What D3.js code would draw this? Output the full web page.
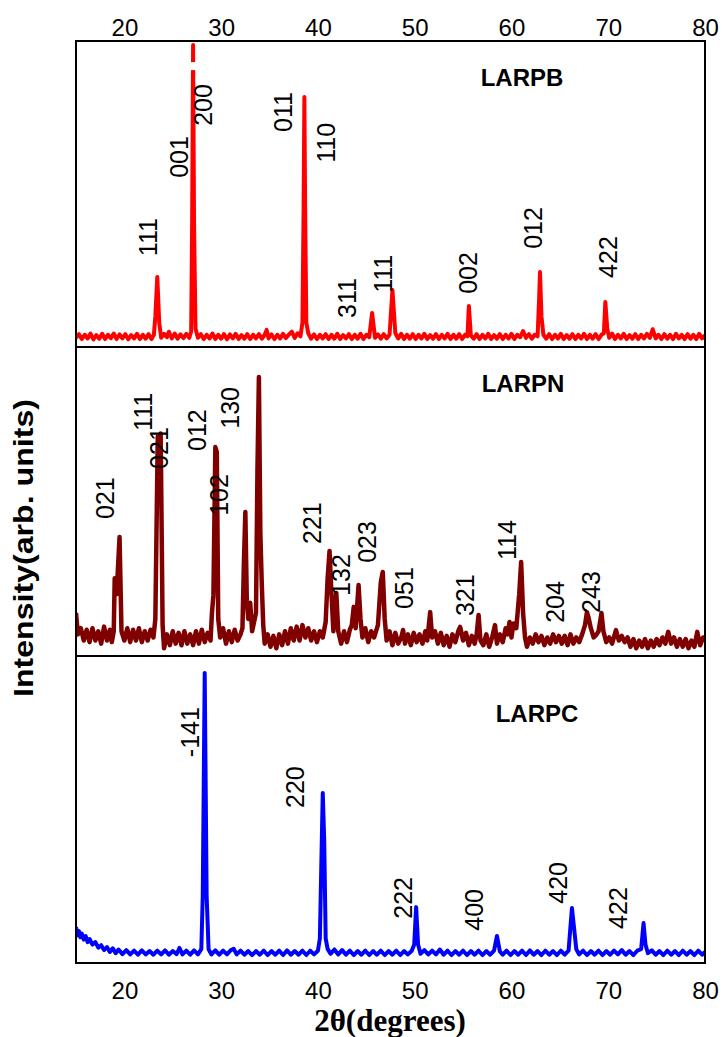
<!DOCTYPE html>
<html>
<head>
<meta charset="utf-8">
<script src="https://cdn.jsdelivr.net/npm/d3@7"></script>
<style>
  body { margin: 0; background: #fff; }
  text { font-family: "Liberation Sans", Arial, sans-serif; }
</style>
</head>
<body>
<svg id="chart" width="722" height="1037"></svg>
<script>
// x axis
const xDomain = [15, 80]
const xTicks = [20, 30, 40, 50, 60, 70, 80]

// LARPB pattern: [2theta, intensity (0-100)]
const larpb = [
  [15.0, 3.0], [15.3, 4.2], [15.6, 2.6], [15.9, 4.0], [16.2, 2.8], [16.5, 4.4], [16.8, 2.5], [17.1, 3.9],
  [17.4, 2.7], [17.7, 4.3], [18.0, 2.6], [18.3, 4.0], [18.6, 2.9], [18.9, 4.4], [19.2, 2.6], [19.5, 4.1],
  [19.8, 2.8], [20.1, 4.2], [20.4, 2.5], [20.7, 3.9], [21.0, 2.8], [21.3, 4.3], [21.6, 2.6], [21.9, 4.0],
  [22.2, 2.7], [22.5, 4.2], [22.8, 2.6], [23.05, 4.0], [23.2, 10], [23.4, 22.9], [23.6, 8], [23.8, 3.0],
  [24.1, 4.3], [24.4, 3.2], [24.6, 5.0], [24.9, 2.8], [25.2, 4.4], [25.5, 2.7], [25.8, 4.1], [26.1, 2.9],
  [26.4, 4.3], [26.7, 3.0], [26.9, 5], [27.0, 40], [27.1, 98.7], [27.2, 40], [27.35, 6], [27.6, 3.0],
  [27.9, 4.2], [28.2, 2.6], [28.5, 4.0], [28.8, 2.8], [29.1, 4.4], [29.4, 2.6], [29.7, 4.0], [30.0, 2.7],
  [30.3, 4.2], [30.6, 2.5], [30.9, 4.1], [31.2, 2.8], [31.5, 4.3], [31.8, 2.6], [32.1, 3.9], [32.4, 2.7],
  [32.7, 4.2], [33.0, 2.6], [33.3, 4.0], [33.6, 2.8], [33.9, 4.2], [34.2, 2.7], [34.5, 4.0], [34.7, 5.6],
  [34.9, 2.8], [35.2, 4.1], [35.5, 2.6], [35.8, 4.0], [36.1, 2.8], [36.4, 4.3], [36.7, 2.9], [37.0, 4.1],
  [37.3, 5.0], [37.6, 3.0], [37.9, 4.5], [38.2, 3.5], [38.4, 8], [38.52, 45], [38.6, 81.7], [38.68, 45],
  [38.8, 8], [39.0, 4.5], [39.3, 2.7], [39.6, 4.1], [39.9, 2.6], [40.2, 4.0], [40.5, 2.8], [40.8, 4.2],
  [41.1, 2.6], [41.4, 4.0], [41.7, 2.7], [42.0, 4.3], [42.3, 2.6], [42.6, 3.9], [42.9, 2.8], [43.2, 4.2],
  [43.5, 2.6], [43.8, 4.0], [44.1, 2.7], [44.4, 4.3], [44.7, 2.6], [45.0, 4.0], [45.3, 3.2], [45.6, 11.1],
  [45.9, 3.0], [46.2, 4.1], [46.5, 2.7], [46.8, 4.2], [47.1, 2.8], [47.4, 4.0], [47.7, 18.6], [48.0, 4.5],
  [48.3, 2.8], [48.6, 4.3], [48.9, 2.6], [49.2, 4.0], [49.5, 2.7], [49.8, 4.2], [50.1, 2.6], [50.4, 4.0],
  [50.7, 2.8], [51.0, 4.3], [51.3, 2.6], [51.6, 3.9], [51.9, 2.7], [52.2, 4.2], [52.5, 2.6], [52.8, 4.0],
  [53.1, 2.8], [53.4, 4.3], [53.7, 2.6], [54.0, 4.0], [54.3, 2.7], [54.6, 4.2], [54.9, 2.6], [55.2, 4.0],
  [55.45, 3.5], [55.6, 13.4], [55.8, 3.8], [56.1, 2.7], [56.4, 4.2], [56.7, 2.6], [57.0, 4.0], [57.3, 2.8],
  [57.6, 4.3], [57.9, 2.6], [58.2, 3.9], [58.5, 2.7], [58.8, 4.2], [59.1, 2.6], [59.4, 4.0], [59.7, 2.8],
  [60.0, 4.3], [60.3, 2.6], [60.6, 4.0], [60.9, 3.2], [61.2, 5.2], [61.5, 3.0], [61.8, 4.2], [62.1, 2.7],
  [62.4, 4.0], [62.7, 3.5], [62.85, 15], [62.95, 24.5], [63.1, 10], [63.3, 4.0], [63.6, 2.7], [63.9, 4.2],
  [64.2, 2.6], [64.5, 4.0], [64.8, 2.8], [65.1, 4.3], [65.4, 2.6], [65.7, 3.9], [66.0, 2.7], [66.3, 4.2],
  [66.6, 2.6], [66.9, 4.0], [67.2, 2.8], [67.5, 4.3], [67.8, 2.6], [68.1, 4.0], [68.4, 2.7], [68.7, 4.2],
  [69.0, 2.6], [69.3, 4.0], [69.55, 4.5], [69.7, 14.7], [69.9, 6], [70.1, 3.0], [70.4, 4.4], [70.7, 2.6],
  [71.0, 4.0], [71.3, 2.8], [71.6, 4.3], [71.9, 2.6], [72.2, 3.9], [72.5, 2.7], [72.8, 4.2], [73.1, 2.6],
  [73.4, 4.0], [73.7, 2.8], [74.0, 4.3], [74.3, 3.0], [74.6, 5.8], [74.9, 2.8], [75.2, 4.0], [75.5, 2.6],
  [75.8, 4.2], [76.1, 2.7], [76.4, 4.0], [76.7, 2.6], [77.0, 4.3], [77.3, 2.8], [77.6, 4.0], [77.9, 2.6],
  [78.2, 4.2], [78.5, 2.7], [78.8, 4.0], [79.1, 2.6], [79.4, 4.3], [79.7, 2.8], [80.0, 3.8]
]
// break drawn across the clipped 001/200 peak
const larpbBreak = [27.1, 91.8]

const larpn = [
  [15.0, 13.9], [15.2, 7], [15.5, 9], [15.8, 5], [16.1, 8.5], [16.4, 4.5], [16.7, 9], [17.0, 5],
  [17.3, 8], [17.6, 4], [17.9, 9.5], [18.2, 5], [18.5, 8.5], [18.7, 4.5], [18.9, 8], [19.0, 25.2],
  [19.2, 20], [19.5, 38.5], [19.7, 8], [20.0, 5], [20.3, 9], [20.6, 4.5], [20.9, 8.5], [21.2, 5],
  [21.5, 9], [21.8, 4.5], [22.1, 8], [22.4, 5], [22.7, 8.5], [23.0, 6], [23.2, 12], [23.45, 71],
  [23.6, 66], [23.75, 72], [23.95, 10], [24.1, 2.5], [24.4, 7], [24.7, 3.5], [25.0, 8], [25.3, 4],
  [25.6, 7.5], [25.9, 3.5], [26.2, 8], [26.5, 4], [26.8, 7], [27.1, 3.5], [27.4, 8], [27.7, 4],
  [28.0, 8.5], [28.3, 4.5], [28.6, 7.5], [28.9, 5], [29.05, 14], [29.2, 19.7], [29.4, 67.6],
  [29.55, 66], [29.7, 12], [29.9, 6], [30.2, 9], [30.5, 4], [30.8, 8], [31.1, 4.5], [31.4, 8.5],
  [31.7, 5], [32.0, 7], [32.2, 9], [32.35, 30], [32.5, 46.6], [32.65, 18], [32.8, 12], [33.0, 17.2],
  [33.2, 8], [33.4, 11], [33.6, 14], [33.75, 60], [33.9, 90.3], [34.05, 40], [34.2, 23], [34.35, 10],
  [34.5, 4], [34.8, 7], [35.1, 3], [35.4, 6.5], [35.7, 2.5], [36.0, 7], [36.3, 3.5], [36.6, 8],
  [36.9, 4], [37.2, 9], [37.5, 5], [37.8, 9.5], [38.1, 5], [38.4, 10], [38.7, 6], [39.0, 9],
  [39.3, 5], [39.6, 8], [39.9, 4.5], [40.2, 8], [40.5, 6], [40.8, 11], [41.0, 25], [41.2, 34],
  [41.4, 20], [41.6, 8], [41.9, 20.4], [42.1, 8], [42.4, 4], [42.7, 8], [43.0, 4.5], [43.3, 8.5],
  [43.5, 10], [43.7, 15.9], [43.9, 9], [44.2, 23], [44.4, 12], [44.6, 6], [44.9, 9], [45.2, 4.5],
  [45.5, 8], [45.8, 6], [46.2, 10], [46.5, 24], [46.7, 27.2], [46.9, 12], [47.1, 5], [47.4, 8],
  [47.7, 3.5], [48.0, 7.5], [48.3, 4], [48.6, 6], [48.8, 8.4], [49.0, 4], [49.3, 7], [49.6, 3.5],
  [49.9, 7.5], [50.2, 4.5], [50.5, 7], [50.8, 4], [51.1, 8], [51.3, 5], [51.6, 14.2], [51.8, 6],
  [52.1, 8], [52.4, 4], [52.7, 7.5], [53.0, 3.5], [53.3, 6.5], [53.6, 3], [53.9, 7], [54.2, 4.5],
  [54.5, 8], [54.7, 9.4], [55.0, 5], [55.3, 7.5], [55.6, 3.5], [55.9, 6.5], [56.2, 4], [56.4, 7],
  [56.6, 13.3], [56.8, 5], [57.1, 3.5], [57.4, 7], [57.7, 3], [58.0, 6], [58.3, 10], [58.5, 4],
  [58.8, 7], [59.1, 4.5], [59.4, 9], [59.6, 7], [59.8, 11], [60.0, 6], [60.2, 10.5], [60.5, 9],
  [60.8, 20], [61.0, 30.4], [61.2, 14], [61.4, 6], [61.6, 3], [61.9, 6], [62.2, 4], [62.5, 7],
  [62.8, 4.5], [63.1, 6.5], [63.4, 3.5], [63.7, 6], [64.0, 4], [64.3, 7], [64.6, 4.5], [64.9, 6.5],
  [65.2, 4], [65.5, 6.5], [65.8, 3.5], [66.1, 7], [66.4, 4], [66.7, 6], [67.0, 4.5], [67.3, 7],
  [67.6, 10], [67.8, 14.2], [68.0, 12], [68.2, 9], [68.5, 6], [68.8, 7], [69.0, 8], [69.3, 13.9],
  [69.5, 8], [69.8, 4.5], [70.1, 6], [70.4, 4], [70.8, 8.4], [71.1, 5], [71.4, 6.5], [71.7, 4.5],
  [72.0, 6], [72.3, 3], [72.6, 5.5], [72.9, 2.5], [73.2, 5], [73.5, 3], [73.8, 5.5], [74.1, 2.5],
  [74.4, 5], [74.7, 3], [75.0, 5.5], [75.3, 3.5], [75.6, 6], [75.9, 4], [76.2, 7.8], [76.5, 4],
  [76.8, 6], [77.1, 3], [77.4, 5.5], [77.7, 3], [78.0, 5.5], [78.3, 2.5], [78.6, 5], [78.9, 3],
  [79.2, 7.8], [79.5, 3.5], [79.8, 6], [80.0, 5]
]

const larpc = [
  [15.0, 11.7], [15.15, 9.0], [15.3, 10.4], [15.45, 8.4], [15.6, 9.6], [15.8, 7.6], [16.0, 8.8],
  [16.2, 6.8], [16.4, 7.8], [16.7, 6.0], [17.0, 6.8], [17.3, 5.0], [17.6, 5.8], [17.9, 4.2],
  [18.2, 5.2], [18.5, 3.6], [18.8, 4.8], [19.1, 3.2], [19.4, 4.4], [19.8, 2.9], [20.2, 4.2],
  [20.6, 2.8], [21.0, 4.0], [21.4, 2.7], [21.8, 4.1], [22.2, 2.8], [22.6, 3.9], [23.0, 2.7],
  [23.4, 4.0], [23.8, 2.8], [24.2, 4.1], [24.6, 2.7], [25.0, 3.9], [25.4, 2.9], [25.7, 4.9],
  [26.0, 2.8], [26.4, 4.0], [26.8, 2.7], [27.2, 4.1], [27.6, 2.8], [27.95, 4.5], [28.1, 22],
  [28.3, 94.5], [28.5, 22], [28.7, 4.5], [29.0, 2.8], [29.4, 4.1], [29.8, 2.7], [30.2, 4.0],
  [30.6, 2.8], [31.0, 4.2], [31.3, 4.6], [31.6, 2.8], [32.0, 4.0], [32.4, 2.7], [32.8, 3.9],
  [33.2, 2.6], [33.6, 3.9], [34.0, 2.7], [34.4, 4.0], [34.8, 2.6], [35.2, 3.9], [35.6, 2.7],
  [36.0, 4.0], [36.4, 2.6], [36.8, 4.1], [37.2, 2.7], [37.6, 3.9], [38.0, 2.7], [38.4, 4.0],
  [38.8, 2.6], [39.2, 4.0], [39.6, 2.8], [40.0, 4.0], [40.2, 8], [40.4, 40], [40.5, 55.4],
  [40.65, 40], [40.8, 8], [41.0, 4.6], [41.3, 3.0], [41.7, 4.4], [42.1, 2.8], [42.5, 4.2],
  [42.9, 2.7], [43.3, 4.0], [43.7, 2.6], [44.1, 3.9], [44.5, 2.7], [44.9, 4.0], [45.3, 2.6],
  [45.7, 3.9], [46.1, 2.7], [46.5, 4.0], [46.9, 2.6], [47.3, 3.9], [47.7, 2.7], [48.1, 4.0],
  [48.5, 2.6], [48.9, 3.9], [49.3, 2.8], [49.7, 4.0], [49.95, 6], [50.15, 18.2], [50.35, 6],
  [50.6, 3.0], [51.0, 4.2], [51.4, 2.8], [51.8, 4.0], [52.2, 2.8], [52.6, 4.4], [53.0, 2.7],
  [53.4, 4.0], [53.8, 2.6], [54.2, 3.9], [54.6, 2.7], [55.0, 4.0], [55.4, 2.6], [55.8, 3.9],
  [56.2, 2.7], [56.6, 4.0], [57.0, 2.6], [57.4, 3.9], [57.8, 2.7], [58.2, 4.0], [58.5, 8.8],
  [58.8, 3.8], [59.1, 2.7], [59.5, 4.0], [59.9, 2.6], [60.3, 3.9], [60.7, 2.7], [61.1, 4.0],
  [61.5, 2.6], [61.9, 4.1], [62.3, 2.7], [62.7, 3.9], [63.1, 2.6], [63.5, 4.0], [63.9, 2.7],
  [64.3, 3.9], [64.7, 2.6], [65.1, 4.0], [65.5, 2.7], [65.9, 4.0], [66.05, 10], [66.25, 17.9],
  [66.45, 12], [66.7, 4.5], [67.0, 2.8], [67.4, 4.0], [67.8, 2.6], [68.2, 3.9], [68.6, 2.7],
  [69.0, 4.0], [69.4, 2.6], [69.8, 3.9], [70.2, 2.7], [70.6, 4.0], [71.0, 2.8], [71.4, 4.2],
  [71.8, 2.7], [72.2, 3.9], [72.6, 2.6], [73.0, 4.0], [73.4, 4.5], [73.65, 13], [73.85, 6],
  [74.1, 3.2], [74.5, 4.1], [74.9, 2.7], [75.3, 3.9], [75.7, 2.6], [76.1, 4.0], [76.5, 2.7],
  [76.9, 3.9], [77.3, 2.6], [77.7, 4.0], [78.1, 2.7], [78.5, 3.9], [78.9, 2.6], [79.3, 4.0],
  [79.7, 2.7], [80.0, 3.6]
]

// hkl labels: [text, 2theta, intensity] (label centre)
const larpbLabels = [
  ['111', 22.44, 35.9], ['001', 25.64, 62.1], ['200', 28.12, 79.1], ['011', 36.39, 76.8],
  ['110', 40.83, 66.7], ['311', 43.0, 16.0], ['111', 46.72, 23.9], ['002', 55.51, 24.2],
  ['012', 62.23, 38.9], ['422', 69.98, 29.4]
]
const larpnLabels = [
  ['021', 18.0, 51.1], ['111', 21.89, 79.0], ['021', 23.58, 67.3], ['012', 27.5, 73.1],
  ['130', 30.91, 80.3], ['102', 29.78, 52.1], ['221', 39.39, 43.0], ['132', 42.38, 26.2],
  ['023', 45.07, 36.9], ['051', 48.9, 22.0], ['321', 55.2, 19.7], ['114', 59.54, 37.5],
  ['204', 64.5, 17.5], ['243', 68.22, 20.7]
]
const larpcLabels = [
  ['-141', 26.78, 75.2], ['220', 37.63, 57.3], ['222', 48.79, 21.2], ['400', 56.13, 17.3],
  ['420', 64.81, 26.1], ['422', 71.01, 17.9]
]

const sampleNames = ['LARPB', 'LARPN', 'LARPC']
const namePositions = [[61.09, 88.2], [61.19, 88.3], [62.64, 81.4]]
const sampleColors = ['#ff0000', '#800000', '#0000ff']

const svg = d3.select('#chart')
const left = 76, right = 705
const bands = [[41, 347], [347, 656], [656, 963]]

const x = d3.scaleLinear().domain(xDomain).range([left, right])

const patterns = [larpb, larpn, larpc]
const labelSets = [larpbLabels, larpnLabels, larpcLabels]

svg.append('defs').append('clipPath').attr('id', 'plotclip')
  .append('rect').attr('x', left).attr('y', bands[0][0])
  .attr('width', right - left).attr('height', bands[2][1] - bands[0][0])

patterns.forEach((data, i) => {
  const y = d3.scaleLinear().domain([0, 100]).range([bands[i][1], bands[i][0]])
  const line = d3.line().x(d => x(d[0])).y(d => y(d[1]))

  svg.append('path')
    .datum(data)
    .attr('clip-path', 'url(#plotclip)')
    .attr('fill', 'none')
    .attr('stroke', sampleColors[i])
    .attr('stroke-width', i === 1 ? 4.5 : 4)
    .attr('stroke-linejoin', 'round')
    .attr('d', line)

  if (i === 0) {
    svg.append('line')
      .attr('x1', x(larpbBreak[0]) - 6).attr('x2', x(larpbBreak[0]) + 6)
      .attr('y1', y(larpbBreak[1])).attr('y2', y(larpbBreak[1]))
      .attr('stroke', '#fff').attr('stroke-width', 8)
  }

  svg.selectAll('text.hkl' + i)
    .data(labelSets[i])
    .enter().append('text')
    .attr('class', 'hkl' + i)
    .attr('transform', d => `translate(${x(d[1])},${y(d[2])}) rotate(-90)`)
    .attr('text-anchor', 'middle')
    .attr('dominant-baseline', 'central')
    .attr('font-size', 25)
    .text(d => d[0])

  svg.append('text')
    .attr('x', x(namePositions[i][0]))
    .attr('y', y(namePositions[i][1]))
    .attr('text-anchor', 'middle')
    .attr('dominant-baseline', 'central')
    .attr('font-size', 24)
    .attr('font-weight', 'bold')
    .text(sampleNames[i])
})

// frame and panel separators
svg.append('rect')
  .attr('x', left).attr('y', bands[0][0])
  .attr('width', right - left).attr('height', bands[2][1] - bands[0][0])
  .attr('fill', 'none').attr('stroke', '#000').attr('stroke-width', 2)
;[bands[0][1], bands[1][1]].forEach(yy => {
  svg.append('line').attr('x1', left).attr('x2', right)
    .attr('y1', yy).attr('y2', yy)
    .attr('stroke', '#000').attr('stroke-width', 2)
})

// axes: labels only, no tick marks
const topAxis = d3.axisTop(x).tickValues(xTicks).tickSize(0).tickPadding(5)
const bottomAxis = d3.axisBottom(x).tickValues(xTicks).tickSize(0).tickPadding(19)
const gTop = svg.append('g').attr('transform', `translate(0,${bands[0][0]})`).call(topAxis)
const gBot = svg.append('g').attr('transform', `translate(0,${bands[2][1]})`).call(bottomAxis)
;[gTop, gBot].forEach(g => {
  g.select('.domain').remove()
  g.selectAll('text').attr('font-size', 24).attr('font-family', '"Liberation Sans", Arial, sans-serif')
    .attr('fill', '#000')
})

svg.append('text')
  .attr('x', 390).attr('y', 1031)
  .attr('text-anchor', 'middle')
  .style('font-family', '"Liberation Serif", "Times New Roman", serif')
  .attr('font-size', 31).attr('font-weight', 'bold')
  .text('2θ(degrees)')

svg.append('text')
  .attr('transform', 'translate(24,548) rotate(-90)')
  .attr('text-anchor', 'middle')
  .attr('dominant-baseline', 'central')
  .attr('font-size', 27).attr('font-weight', 'bold')
  .attr('textLength', 298).attr('lengthAdjust', 'spacingAndGlyphs')
  .text('Intensity(arb. units)')
</script>
</body>
</html>
